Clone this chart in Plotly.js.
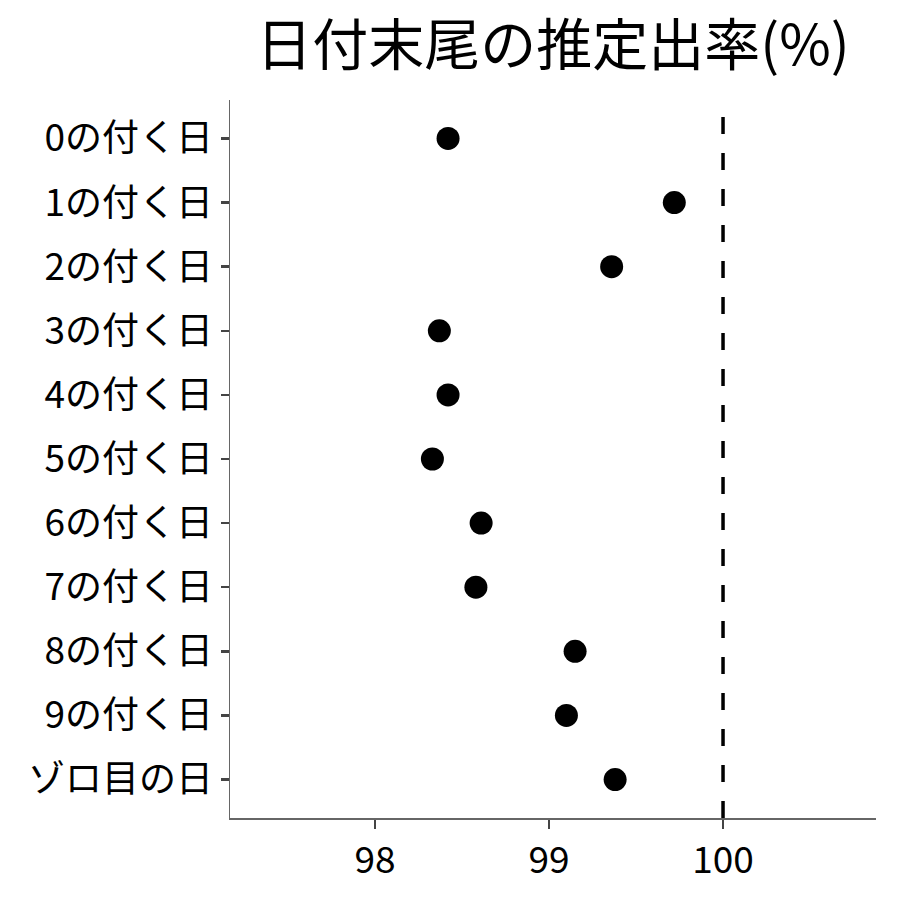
<!DOCTYPE html>
<html>
<head>
<meta charset="utf-8">
<script src="https://cdn.plot.ly/plotly-3.0.1.min.js"></script>
<style>html,body{margin:0;padding:0;background:#fff;}#chart{width:900px;height:900px;}</style>
</head>
<body>
<div id="chart"></div>
<script>
const categories = ["0の付く日","1の付く日","2の付く日","3の付く日","4の付く日","5の付く日","6の付く日","7の付く日","8の付く日","9の付く日","ゾロ目の日"];
const rates = [98.42, 99.72, 99.36, 98.37, 98.42, 98.33, 98.61, 98.58, 99.15, 99.10, 99.38];
const refValue = 100;
const xTicks = [98, 99, 100];

const font = "'Noto Sans CJK JP', 'Noto Sans', sans-serif";

const trace = {
  type: 'scatter',
  mode: 'markers',
  x: rates,
  y: categories,
  marker: {color: '#000', size: 23},
  hoverinfo: 'x+y'
};

const layout = {
  width: 900, height: 900,
  margin: {l: 230, r: 24, t: 100, b: 82},
  paper_bgcolor: '#fff', plot_bgcolor: '#fff',
  showlegend: false,
  font: {family: font, color: '#000'},
  title: {text: '日付末尾の推定出率(%)', font: {family: font, size: 56, color: '#000'},
          x: 0.5, xref: 'paper', xanchor: 'center', y: 0.95, yanchor: 'middle'},
  xaxis: {
    range: [97.167, 100.879], tickvals: xTicks, ticktext: xTicks.map(String),
    showgrid: false, zeroline: false, showline: true, linecolor: '#666', linewidth: 1.5,
    ticks: 'outside', ticklen: 9, tickwidth: 2.5, tickcolor: '#444',
    tickfont: {family: font, size: 37, color: '#000'}
  },
  yaxis: {
    type: 'category', categoryorder: 'array', categoryarray: categories,
    range: [10.6, -0.6], autorange: false,
    showgrid: false, zeroline: false, showline: true, linecolor: '#666', linewidth: 1.5,
    ticks: 'outside', ticklen: 8, tickwidth: 2.5, tickcolor: '#444',
    tickfont: {family: font, size: 37, color: '#000'}, ticklabelstandoff: 0
  },
  shapes: [{
    type: 'line', xref: 'x', yref: 'paper', x0: refValue, x1: refValue, y0: 0, y1: 1,
    line: {color: '#000', width: 3.5, dash: '17px,19px'}
  }]
};

Plotly.newPlot('chart', [trace], layout, {displayModeBar: false, staticPlot: true});
</script>
</body>
</html>
